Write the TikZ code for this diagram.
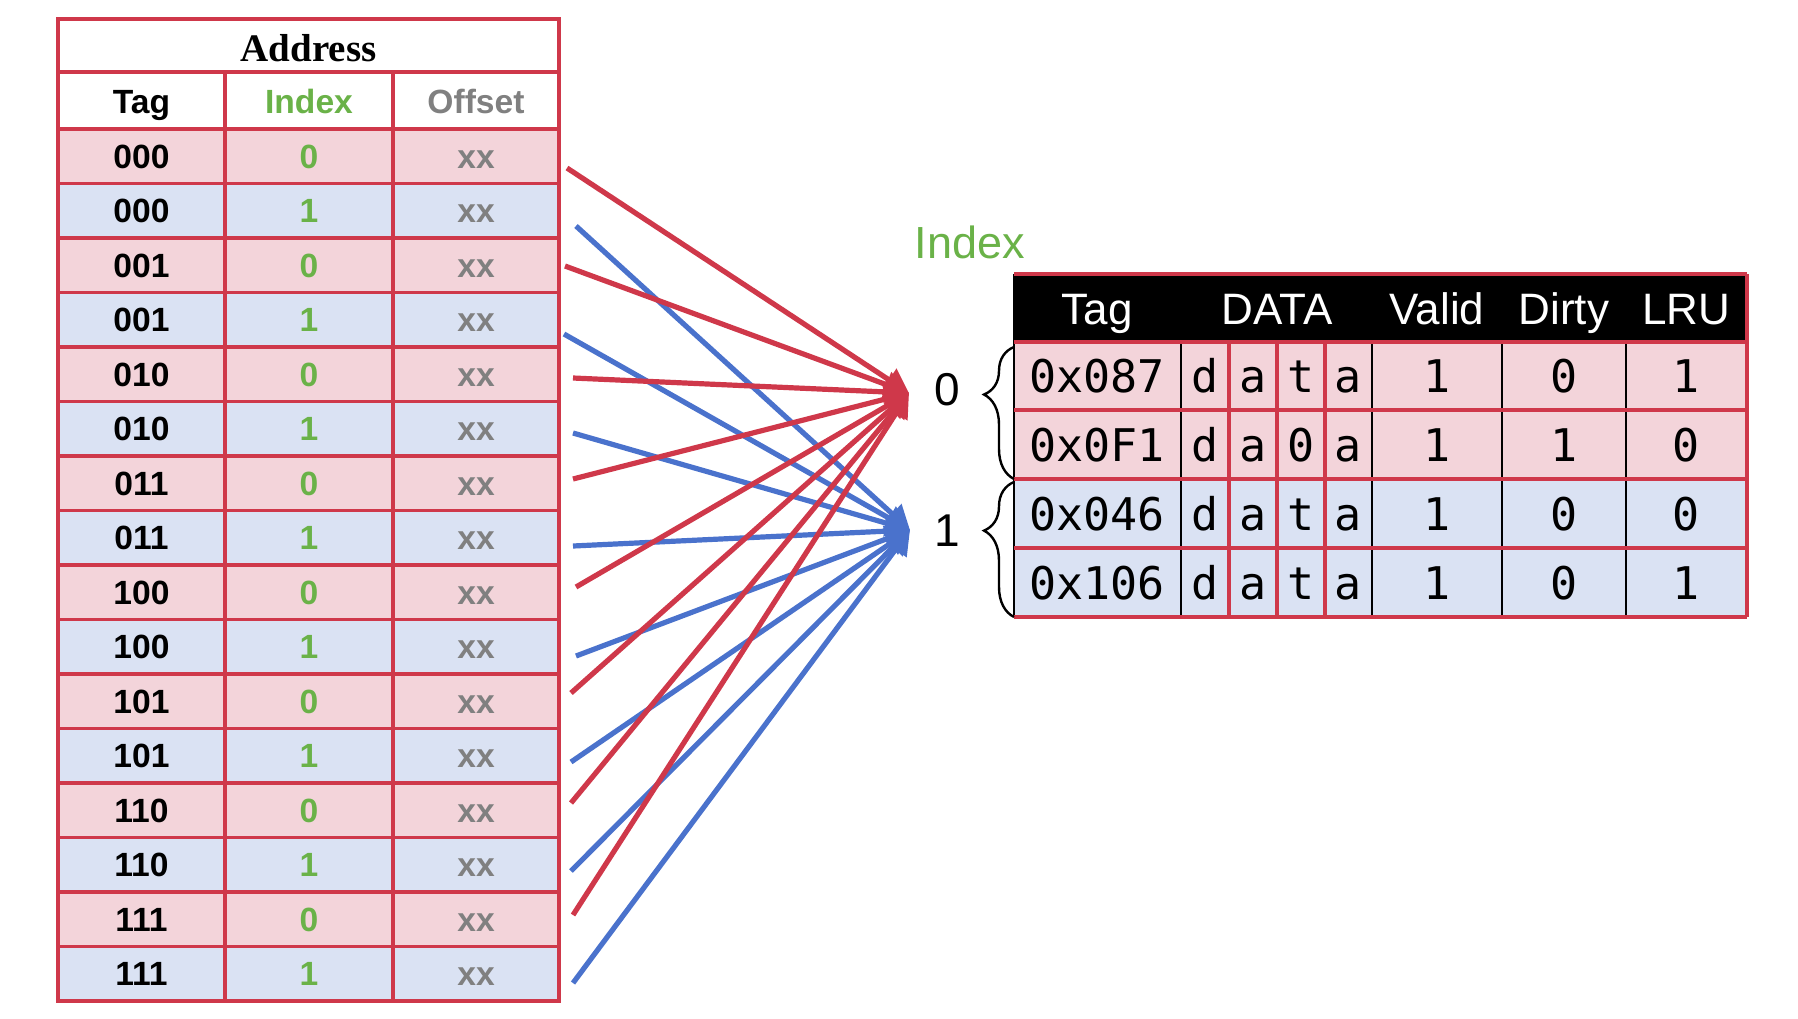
\documentclass[tikz,border=0pt]{standalone}
\usepackage{fontspec}
\setmainfont{Liberation Sans}
\newfontfamily\addrfont{Liberation Serif}
\newfontfamily\monofont{DejaVu Sans Mono}
\usetikzlibrary{arrows.meta,decorations.pathreplacing}
\definecolor{cred}{RGB}{207,56,74}
\definecolor{cpink}{RGB}{243,212,218}
\definecolor{cblue}{RGB}{218,226,243}
\definecolor{cgreen}{RGB}{106,178,72}
\definecolor{cgray}{RGB}{128,128,128}
\definecolor{lblue}{RGB}{74,114,204}
\definecolor{lred}{RGB}{207,56,74}
\begin{document}
\begin{tikzpicture}[x=0.5pt,y=-0.5pt,
  gridline/.style={draw=cred,line width=1.7pt},
  thinblack/.style={draw=black,line width=0.8pt},
  rowtxt/.style={inner sep=0pt,anchor=base,font=\fontsize{16.8}{19}\selectfont\bfseries},
  headtxt/.style={inner sep=0pt,anchor=base,text=white,font=\fontsize{22}{26}\selectfont},
  monotxt/.style={inner sep=0pt,anchor=base,font=\monofont\fontsize{22.5}{26}\selectfont},
  lbltxt/.style={inner sep=0pt,anchor=base,font=\fontsize{23}{27}\selectfont},
  redline/.style={draw=lred,line width=2.6pt,-{Triangle[length=12pt,width=13pt]}},
  blueline/.style={draw=lblue,line width=2.6pt,-{Triangle[length=12pt,width=13pt]}},
  bracestyle/.style={draw=black,line width=1.2pt,decorate,decoration={brace,amplitude=15pt,aspect=0.64}}
]
\useasboundingbox (0,0) rectangle (1798,1018);
% ---------------- Left table ----------------
\fill[white] (58,19) rectangle (559,129);
\foreach \i in {0,...,15}{
  \pgfmathsetmacro\yt{129+54.5*\i}
  \pgfmathsetmacro\yb{129+54.5*(\i+1)}
  \ifodd\i
    \fill[cblue] (58,\yt) rectangle (559,\yb);
  \else
    \fill[cpink] (58,\yt) rectangle (559,\yb);
  \fi
}
\foreach \k in {0,...,15}{
  \pgfmathsetmacro\yy{129+54.5*\k}
  \draw[gridline] (58,\yy) -- (559,\yy);
}
\draw[gridline] (58,72) -- (559,72);
\draw[gridline] (225,72) -- (225,1001);
\draw[gridline] (393,72) -- (393,1001);
\draw[gridline] (58,19) rectangle (559,1001);
\node[inner sep=0pt,anchor=base,font=\addrfont\bfseries\fontsize{19.5}{22}\selectfont] (addr) at (308.5,61) {Address};
\node[rowtxt] (hTag) at (141.5,113) {Tag};
\node[rowtxt,text=cgreen] (hIdx) at (309,113) {Index};
\node[rowtxt,text=cgray] (hOff) at (476,113) {Offset};
\foreach \t [count=\c] in {000,000,001,001,010,010,011,011,100,100,101,101,110,110,111,111}{
  \pgfmathtruncatemacro\i{\c-1}
  \pgfmathtruncatemacro\ix{mod(\i,2)}
  \pgfmathsetmacro\yc{129+54.5*\i+27.25+12}
  \node[rowtxt] (tag\i) at (141.5,\yc) {\t};
  \node[rowtxt,text=cgreen] (idx\i) at (309,\yc) {\ix};
  \node[rowtxt,text=cgray] (off\i) at (476,\yc) {xx};
}
% ---------------- Connectors ----------------
\coordinate (rt) at (909,393);
\coordinate (bt) at (910,530);
\coordinate (s0) at (567,168);
\coordinate (s1) at (576,226);
\coordinate (s2) at (565,266);
\coordinate (s3) at (564,334);
\coordinate (s4) at (573,378);
\coordinate (s5) at (573,433);
\coordinate (s6) at (573,479);
\coordinate (s7) at (573,546);
\coordinate (s8) at (576,587);
\coordinate (s9) at (576,656);
\coordinate (s10) at (571,693);
\coordinate (s11) at (571,762);
\coordinate (s12) at (571,803);
\coordinate (s13) at (571,871);
\coordinate (s14) at (573,915);
\coordinate (s15) at (573,983);
\foreach \i in {0,...,15}{
  \ifodd\i
    \draw[blueline] (s\i) -- (bt);
  \else
    \draw[redline] (s\i) -- (rt);
  \fi
}
% ---------------- Right table ----------------
\node[inner sep=0pt,anchor=base,text=cgreen,font=\fontsize{22.5}{26}\selectfont] (idxlbl) at (970,258) {Index};
\fill[black] (1014,274) rectangle (1747,342);
\fill[cpink] (1014,342) rectangle (1747,479);
\fill[cblue] (1014,479) rectangle (1747,617);
\foreach \xx in {1181,1372,1502,1626}{
  \draw[thinblack] (\xx,342) -- (\xx,617);
}
\draw[thinblack] (1014,274) -- (1014,617);
\foreach \xx in {1229,1277,1325}{
  \draw[gridline] (\xx,342) -- (\xx,617);
}
\foreach \yy in {274,342,410,479,548,617}{
  \draw[gridline] (1014,\yy) -- (1747,\yy);
}
\draw[gridline] (1747,274) -- (1747,617);
\node[headtxt] (cTag) at (1097,324) {Tag};
\node[headtxt] (cData) at (1277,324) {DATA};
\node[headtxt] (cValid) at (1437,324) {Valid};
\node[headtxt] (cDirty) at (1564,324) {Dirty};
\node[headtxt] (cLRU) at (1686,324) {LRU};
\foreach \tg/\da/\db/\dc/\dd/\va/\di/\lr [count=\c] in
  {0x087/d/a/t/a/1/0/1, 0x0F1/d/a/0/a/1/1/0, 0x046/d/a/t/a/1/0/0, 0x106/d/a/t/a/1/0/1}{
  \pgfmathsetmacro\yb{342+68.75*(\c-1)+34.4+16.5}
  \node[monotxt] (rt\c) at (1097,\yb) {\tg};
  \node[monotxt] (rd\c) at (1205,\yb) {\da};
  \node[monotxt] (ra\c) at (1253,\yb) {\db};
  \node[monotxt] (rx\c) at (1301,\yb) {\dc};
  \node[monotxt] (rb\c) at (1348.5,\yb) {\dd};
  \node[monotxt] (rv\c) at (1437,\yb) {\va};
  \node[monotxt] (ry\c) at (1564,\yb) {\di};
  \node[monotxt] (rl\c) at (1686,\yb) {\lr};
}
% braces and set labels
\draw[bracestyle] (1014,479) -- (1014,347);
\draw[bracestyle] (1014,617) -- (1014,482);
\node[lbltxt] (set0) at (947,405) {0};
\node[lbltxt] (set1) at (947,546) {1};
\end{tikzpicture}
\end{document}
